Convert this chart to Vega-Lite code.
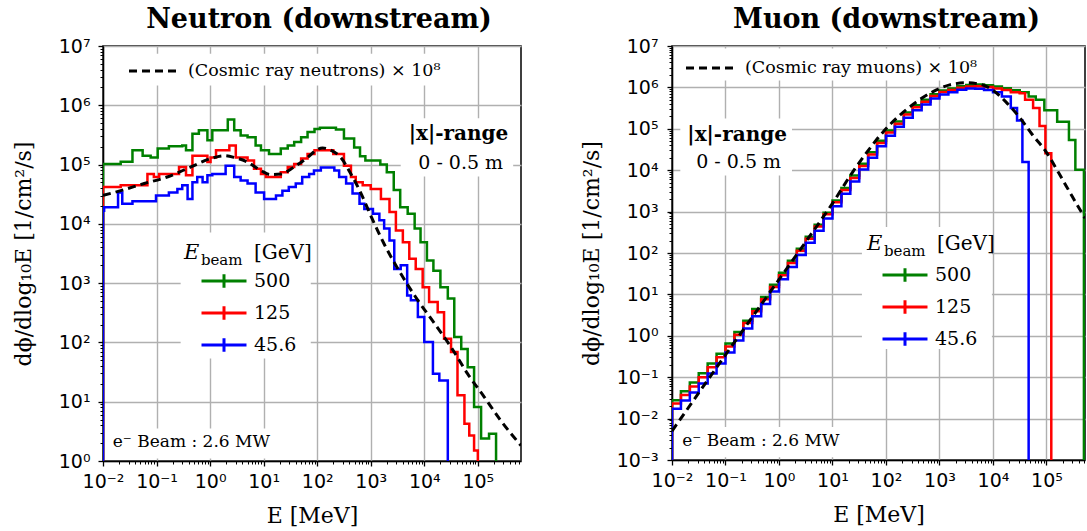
{
  "$schema": "https://vega.github.io/schema/vega-lite/v6.json",
  "background": "white",
  "padding": {"left": 11, "top": 4, "right": 0, "bottom": 0},
  "datasets": {
    "neutron": [
      {"E": 0.01, "flux": 0.001, "beam": "500"}, {"E": 0.01, "flux": 102000, "beam": "500"}, {"E": 0.0214, "flux": 112000, "beam": "500"}, {"E": 0.0355, "flux": 174000, "beam": "500"}, {"E": 0.055, "flux": 141000, "beam": "500"}, {"E": 0.0776, "flux": 132000, "beam": "500"}, {"E": 0.105, "flux": 186000, "beam": "500"}, {"E": 0.17, "flux": 204000, "beam": "500"}, {"E": 0.302, "flux": 209000, "beam": "500"}, {"E": 0.355, "flux": 174000, "beam": "500"}, {"E": 0.468, "flux": 331000, "beam": "500"}, {"E": 0.617, "flux": 380000, "beam": "500"}, {"E": 0.891, "flux": 257000, "beam": "500"}, {"E": 1.1, "flux": 380000, "beam": "500"}, {"E": 2.14, "flux": 575000, "beam": "500"}, {"E": 2.82, "flux": 380000, "beam": "500"}, {"E": 3.72, "flux": 309000, "beam": "500"}, {"E": 5.01, "flux": 288000, "beam": "500"}, {"E": 7.08, "flux": 209000, "beam": "500"}, {"E": 8.91, "flux": 174000, "beam": "500"}, {"E": 12.6, "flux": 151000, "beam": "500"}, {"E": 20.9, "flux": 186000, "beam": "500"}, {"E": 28.2, "flux": 209000, "beam": "500"}, {"E": 37.2, "flux": 240000, "beam": "500"}, {"E": 50.1, "flux": 288000, "beam": "500"}, {"E": 66.1, "flux": 355000, "beam": "500"}, {"E": 89.1, "flux": 398000, "beam": "500"}, {"E": 112, "flux": 417000, "beam": "500"}, {"E": 224, "flux": 389000, "beam": "500"}, {"E": 316, "flux": 275000, "beam": "500"}, {"E": 490, "flux": 195000, "beam": "500"}, {"E": 631, "flux": 138000, "beam": "500"}, {"E": 794, "flux": 117000, "beam": "500"}, {"E": 1510, "flux": 100000, "beam": "500"}, {"E": 1995, "flux": 74100, "beam": "500"}, {"E": 2690, "flux": 37200, "beam": "500"}, {"E": 3550, "flux": 19100, "beam": "500"}, {"E": 4900, "flux": 14800, "beam": "500"}, {"E": 6610, "flux": 8320, "beam": "500"}, {"E": 8510, "flux": 4900, "beam": "500"}, {"E": 11200, "flux": 2400, "beam": "500"}, {"E": 14800, "flux": 1620, "beam": "500"}, {"E": 20000, "flux": 851, "beam": "500"}, {"E": 27500, "flux": 550, "beam": "500"}, {"E": 36300, "flux": 123, "beam": "500"}, {"E": 49000, "flux": 77.6, "beam": "500"}, {"E": 64600, "flux": 38, "beam": "500"}, {"E": 85100, "flux": 8.13, "beam": "500"}, {"E": 115000, "flux": 2.4, "beam": "500"}, {"E": 162000, "flux": 2.88, "beam": "500"}, {"E": 219000, "flux": 0.001, "beam": "500"},
      {"E": 0.01, "flux": 0.001, "beam": "125"}, {"E": 0.01, "flux": 41700, "beam": "125"}, {"E": 0.0214, "flux": 44700, "beam": "125"}, {"E": 0.0676, "flux": 69200, "beam": "125"}, {"E": 0.0891, "flux": 61700, "beam": "125"}, {"E": 0.112, "flux": 69200, "beam": "125"}, {"E": 0.263, "flux": 91200, "beam": "125"}, {"E": 0.355, "flux": 66100, "beam": "125"}, {"E": 0.468, "flux": 141000, "beam": "125"}, {"E": 0.891, "flux": 110000, "beam": "125"}, {"E": 1.02, "flux": 132000, "beam": "125"}, {"E": 1.29, "flux": 174000, "beam": "125"}, {"E": 2.29, "flux": 209000, "beam": "125"}, {"E": 3.02, "flux": 132000, "beam": "125"}, {"E": 5.01, "flux": 117000, "beam": "125"}, {"E": 6.61, "flux": 85100, "beam": "125"}, {"E": 8.91, "flux": 69200, "beam": "125"}, {"E": 11, "flux": 61700, "beam": "125"}, {"E": 20.9, "flux": 74100, "beam": "125"}, {"E": 28.2, "flux": 91200, "beam": "125"}, {"E": 37.2, "flux": 102000, "beam": "125"}, {"E": 50.1, "flux": 126000, "beam": "125"}, {"E": 66.1, "flux": 151000, "beam": "125"}, {"E": 89.1, "flux": 174000, "beam": "125"}, {"E": 200, "flux": 151000, "beam": "125"}, {"E": 316, "flux": 95500, "beam": "125"}, {"E": 427, "flux": 61700, "beam": "125"}, {"E": 525, "flux": 50100, "beam": "125"}, {"E": 708, "flux": 44700, "beam": "125"}, {"E": 1000, "flux": 38900, "beam": "125"}, {"E": 1550, "flux": 26300, "beam": "125"}, {"E": 2240, "flux": 15800, "beam": "125"}, {"E": 2950, "flux": 7760, "beam": "125"}, {"E": 3980, "flux": 4900, "beam": "125"}, {"E": 5250, "flux": 2570, "beam": "125"}, {"E": 6920, "flux": 1740, "beam": "125"}, {"E": 9330, "flux": 851, "beam": "125"}, {"E": 12300, "flux": 479, "beam": "125"}, {"E": 17800, "flux": 324, "beam": "125"}, {"E": 23400, "flux": 115, "beam": "125"}, {"E": 31600, "flux": 69.2, "beam": "125"}, {"E": 41700, "flux": 12.9, "beam": "125"}, {"E": 56200, "flux": 4.27, "beam": "125"}, {"E": 69200, "flux": 2.69, "beam": "125"}, {"E": 85100, "flux": 1.51, "beam": "125"}, {"E": 100000, "flux": 0.001, "beam": "125"},
      {"E": 0.01, "flux": 0.001, "beam": "45.6"}, {"E": 0.01, "flux": 16600, "beam": "45.6"}, {"E": 0.0105, "flux": 19100, "beam": "45.6"}, {"E": 0.0191, "flux": 33900, "beam": "45.6"}, {"E": 0.0229, "flux": 21900, "beam": "45.6"}, {"E": 0.0355, "flux": 24000, "beam": "45.6"}, {"E": 0.0977, "flux": 30200, "beam": "45.6"}, {"E": 0.17, "flux": 33900, "beam": "45.6"}, {"E": 0.245, "flux": 38900, "beam": "45.6"}, {"E": 0.302, "flux": 44700, "beam": "45.6"}, {"E": 0.38, "flux": 26300, "beam": "45.6"}, {"E": 0.468, "flux": 50100, "beam": "45.6"}, {"E": 0.575, "flux": 61700, "beam": "45.6"}, {"E": 0.724, "flux": 50100, "beam": "45.6"}, {"E": 0.891, "flux": 66100, "beam": "45.6"}, {"E": 1.1, "flux": 69200, "beam": "45.6"}, {"E": 1.95, "flux": 95500, "beam": "45.6"}, {"E": 2.82, "flux": 61700, "beam": "45.6"}, {"E": 3.72, "flux": 53700, "beam": "45.6"}, {"E": 5.01, "flux": 47900, "beam": "45.6"}, {"E": 7.08, "flux": 33900, "beam": "45.6"}, {"E": 10.2, "flux": 26300, "beam": "45.6"}, {"E": 17, "flux": 30200, "beam": "45.6"}, {"E": 22.4, "flux": 36300, "beam": "45.6"}, {"E": 29.5, "flux": 41700, "beam": "45.6"}, {"E": 39.8, "flux": 47900, "beam": "45.6"}, {"E": 52.5, "flux": 61700, "beam": "45.6"}, {"E": 70.8, "flux": 69200, "beam": "45.6"}, {"E": 87.1, "flux": 79400, "beam": "45.6"}, {"E": 117, "flux": 89100, "beam": "45.6"}, {"E": 209, "flux": 79400, "beam": "45.6"}, {"E": 257, "flux": 61700, "beam": "45.6"}, {"E": 347, "flux": 47900, "beam": "45.6"}, {"E": 457, "flux": 32400, "beam": "45.6"}, {"E": 617, "flux": 21900, "beam": "45.6"}, {"E": 759, "flux": 17800, "beam": "45.6"}, {"E": 1100, "flux": 14800, "beam": "45.6"}, {"E": 1450, "flux": 11500, "beam": "45.6"}, {"E": 1780, "flux": 8320, "beam": "45.6"}, {"E": 2240, "flux": 5250, "beam": "45.6"}, {"E": 2750, "flux": 1740, "beam": "45.6"}, {"E": 3630, "flux": 2000, "beam": "45.6"}, {"E": 4790, "flux": 617, "beam": "45.6"}, {"E": 5620, "flux": 513, "beam": "45.6"}, {"E": 7590, "flux": 269, "beam": "45.6"}, {"E": 10000, "flux": 102, "beam": "45.6"}, {"E": 14500, "flux": 29.5, "beam": "45.6"}, {"E": 19100, "flux": 22.9, "beam": "45.6"}, {"E": 27500, "flux": 0.001, "beam": "45.6"}
    ],
    "neutron_cosmic": [
      {"E": 0.01, "flux": 30200, "curve": "(Cosmic ray neutrons) × 10⁸"}, {"E": 0.0214, "flux": 36300, "curve": "(Cosmic ray neutrons) × 10⁸"}, {"E": 0.0589, "flux": 47900, "curve": "(Cosmic ray neutrons) × 10⁸"}, {"E": 0.158, "flux": 61700, "curve": "(Cosmic ray neutrons) × 10⁸"}, {"E": 0.437, "flux": 91200, "curve": "(Cosmic ray neutrons) × 10⁸"}, {"E": 1.02, "flux": 126000, "curve": "(Cosmic ray neutrons) × 10⁸"}, {"E": 1.82, "flux": 141000, "curve": "(Cosmic ray neutrons) × 10⁸"}, {"E": 2.82, "flux": 132000, "curve": "(Cosmic ray neutrons) × 10⁸"}, {"E": 5.01, "flux": 110000, "curve": "(Cosmic ray neutrons) × 10⁸"}, {"E": 8.91, "flux": 79400, "curve": "(Cosmic ray neutrons) × 10⁸"}, {"E": 13.5, "flux": 67600, "curve": "(Cosmic ray neutrons) × 10⁸"}, {"E": 20.9, "flux": 69200, "curve": "(Cosmic ray neutrons) × 10⁸"}, {"E": 37.2, "flux": 91200, "curve": "(Cosmic ray neutrons) × 10⁸"}, {"E": 66.1, "flux": 132000, "curve": "(Cosmic ray neutrons) × 10⁸"}, {"E": 100, "flux": 178000, "curve": "(Cosmic ray neutrons) × 10⁸"}, {"E": 126, "flux": 191000, "curve": "(Cosmic ray neutrons) × 10⁸"}, {"E": 182, "flux": 174000, "curve": "(Cosmic ray neutrons) × 10⁸"}, {"E": 275, "flux": 132000, "curve": "(Cosmic ray neutrons) × 10⁸"}, {"E": 427, "flux": 69200, "curve": "(Cosmic ray neutrons) × 10⁸"}, {"E": 661, "flux": 32400, "curve": "(Cosmic ray neutrons) × 10⁸"}, {"E": 1000, "flux": 13800, "curve": "(Cosmic ray neutrons) × 10⁸"}, {"E": 1780, "flux": 4570, "curve": "(Cosmic ray neutrons) × 10⁸"}, {"E": 3630, "flux": 1450, "curve": "(Cosmic ray neutrons) × 10⁸"}, {"E": 7590, "flux": 513, "curve": "(Cosmic ray neutrons) × 10⁸"}, {"E": 15500, "flux": 209, "curve": "(Cosmic ray neutrons) × 10⁸"}, {"E": 31600, "flux": 83.2, "curve": "(Cosmic ray neutrons) × 10⁸"}, {"E": 64600, "flux": 29.5, "curve": "(Cosmic ray neutrons) × 10⁸"}, {"E": 132000, "flux": 12, "curve": "(Cosmic ray neutrons) × 10⁸"}, {"E": 269000, "flux": 4.79, "curve": "(Cosmic ray neutrons) × 10⁸"}, {"E": 640000, "flux": 1.82, "curve": "(Cosmic ray neutrons) × 10⁸"}
    ],
    "muon": [
      {"E": 0.01, "flux": 0.00001, "beam": "500"}, {"E": 0.01, "flux": 0.0279, "beam": "500"}, {"E": 0.01468, "flux": 0.0457, "beam": "500"}, {"E": 0.02154, "flux": 0.0748, "beam": "500"}, {"E": 0.03162, "flux": 0.125, "beam": "500"}, {"E": 0.04642, "flux": 0.214, "beam": "500"}, {"E": 0.06813, "flux": 0.366, "beam": "500"}, {"E": 0.1, "flux": 0.655, "beam": "500"}, {"E": 0.1468, "flux": 1.23, "beam": "500"}, {"E": 0.2154, "flux": 2.31, "beam": "500"}, {"E": 0.3162, "flux": 4.43, "beam": "500"}, {"E": 0.4642, "flux": 8.71, "beam": "500"}, {"E": 0.6813, "flux": 17.1, "beam": "500"}, {"E": 1, "flux": 33.5, "beam": "500"}, {"E": 1.468, "flux": 65.3, "beam": "500"}, {"E": 2.154, "flux": 127, "beam": "500"}, {"E": 3.162, "flux": 248, "beam": "500"}, {"E": 4.642, "flux": 484, "beam": "500"}, {"E": 6.813, "flux": 944, "beam": "500"}, {"E": 10, "flux": 1860, "beam": "500"}, {"E": 14.68, "flux": 3720, "beam": "500"}, {"E": 21.54, "flux": 7410, "beam": "500"}, {"E": 31.62, "flux": 14400, "beam": "500"}, {"E": 46.42, "flux": 27200, "beam": "500"}, {"E": 68.13, "flux": 51500, "beam": "500"}, {"E": 100, "flux": 90800, "beam": "500"}, {"E": 146.8, "flux": 150000, "beam": "500"}, {"E": 215.4, "flux": 247000, "beam": "500"}, {"E": 316.2, "flux": 368000, "beam": "500"}, {"E": 464.2, "flux": 501000, "beam": "500"}, {"E": 681.3, "flux": 682000, "beam": "500"}, {"E": 1000, "flux": 841000, "beam": "500"}, {"E": 1468, "flux": 944000, "beam": "500"}, {"E": 2154, "flux": 1060000, "beam": "500"}, {"E": 3162, "flux": 1140000, "beam": "500"}, {"E": 4642, "flux": 1170000, "beam": "500"}, {"E": 6813, "flux": 1120000, "beam": "500"}, {"E": 10000, "flux": 1050000, "beam": "500"}, {"E": 14678, "flux": 955000, "beam": "500"}, {"E": 21544, "flux": 851000, "beam": "500"}, {"E": 31623, "flux": 759000, "beam": "500"}, {"E": 46416, "flux": 603000, "beam": "500"}, {"E": 63096, "flux": 501000, "beam": "500"}, {"E": 91201, "flux": 282000, "beam": "500"}, {"E": 158489, "flux": 148000, "beam": "500"}, {"E": 263027, "flux": 53700, "beam": "500"}, {"E": 346737, "flux": 10200, "beam": "500"}, {"E": 501187, "flux": 0.00001, "beam": "500"},
      {"E": 0.01, "flux": 0.00001, "beam": "125"}, {"E": 0.01, "flux": 0.0231, "beam": "125"}, {"E": 0.01468, "flux": 0.0372, "beam": "125"}, {"E": 0.02154, "flux": 0.0598, "beam": "125"}, {"E": 0.03162, "flux": 0.1, "beam": "125"}, {"E": 0.04642, "flux": 0.174, "beam": "125"}, {"E": 0.06813, "flux": 0.302, "beam": "125"}, {"E": 0.1, "flux": 0.551, "beam": "125"}, {"E": 0.1468, "flux": 1.06, "beam": "125"}, {"E": 0.2154, "flux": 2.04, "beam": "125"}, {"E": 0.3162, "flux": 3.93, "beam": "125"}, {"E": 0.4642, "flux": 7.67, "beam": "125"}, {"E": 0.6813, "flux": 15, "beam": "125"}, {"E": 1, "flux": 29.2, "beam": "125"}, {"E": 1.468, "flux": 57.5, "beam": "125"}, {"E": 2.154, "flux": 113, "beam": "125"}, {"E": 3.162, "flux": 222, "beam": "125"}, {"E": 4.642, "flux": 437, "beam": "125"}, {"E": 6.813, "flux": 859, "beam": "125"}, {"E": 10, "flux": 1680, "beam": "125"}, {"E": 14.68, "flux": 3310, "beam": "125"}, {"E": 21.54, "flux": 6520, "beam": "125"}, {"E": 31.62, "flux": 12600, "beam": "125"}, {"E": 46.42, "flux": 24000, "beam": "125"}, {"E": 68.13, "flux": 45700, "beam": "125"}, {"E": 100, "flux": 80900, "beam": "125"}, {"E": 146.8, "flux": 133000, "beam": "125"}, {"E": 215.4, "flux": 220000, "beam": "125"}, {"E": 316.2, "flux": 330000, "beam": "125"}, {"E": 464.2, "flux": 452000, "beam": "125"}, {"E": 681.3, "flux": 619000, "beam": "125"}, {"E": 1000, "flux": 771000, "beam": "125"}, {"E": 1468, "flux": 871000, "beam": "125"}, {"E": 2154, "flux": 984000, "beam": "125"}, {"E": 3162, "flux": 1050000, "beam": "125"}, {"E": 4642, "flux": 1070000, "beam": "125"}, {"E": 6813, "flux": 1020000, "beam": "125"}, {"E": 10000, "flux": 940000, "beam": "125"}, {"E": 14678, "flux": 861000, "beam": "125"}, {"E": 21544, "flux": 767000, "beam": "125"}, {"E": 31623, "flux": 724000, "beam": "125"}, {"E": 39811, "flux": 501000, "beam": "125"}, {"E": 56234, "flux": 316000, "beam": "125"}, {"E": 74131, "flux": 117000, "beam": "125"}, {"E": 95499, "flux": 25700, "beam": "125"}, {"E": 123027, "flux": 0.00001, "beam": "125"},
      {"E": 0.01, "flux": 0.00001, "beam": "45.6"}, {"E": 0.01, "flux": 0.0173, "beam": "45.6"}, {"E": 0.01468, "flux": 0.0272, "beam": "45.6"}, {"E": 0.02154, "flux": 0.0429, "beam": "45.6"}, {"E": 0.03162, "flux": 0.0708, "beam": "45.6"}, {"E": 0.04642, "flux": 0.123, "beam": "45.6"}, {"E": 0.06813, "flux": 0.214, "beam": "45.6"}, {"E": 0.1, "flux": 0.394, "beam": "45.6"}, {"E": 0.1468, "flux": 0.767, "beam": "45.6"}, {"E": 0.2154, "flux": 1.5, "beam": "45.6"}, {"E": 0.3162, "flux": 2.95, "beam": "45.6"}, {"E": 0.4642, "flux": 5.89, "beam": "45.6"}, {"E": 0.6813, "flux": 11.7, "beam": "45.6"}, {"E": 1, "flux": 23.2, "beam": "45.6"}, {"E": 1.468, "flux": 45.7, "beam": "45.6"}, {"E": 2.154, "flux": 89.9, "beam": "45.6"}, {"E": 3.162, "flux": 176, "beam": "45.6"}, {"E": 4.642, "flux": 347, "beam": "45.6"}, {"E": 6.813, "flux": 682, "beam": "45.6"}, {"E": 10, "flux": 1350, "beam": "45.6"}, {"E": 14.68, "flux": 2690, "beam": "45.6"}, {"E": 21.54, "flux": 5370, "beam": "45.6"}, {"E": 31.62, "flux": 10400, "beam": "45.6"}, {"E": 46.42, "flux": 19950, "beam": "45.6"}, {"E": 68.13, "flux": 38000, "beam": "45.6"}, {"E": 100, "flux": 67600, "beam": "45.6"}, {"E": 146.8, "flux": 112000, "beam": "45.6"}, {"E": 215.4, "flux": 186000, "beam": "45.6"}, {"E": 316.2, "flux": 282000, "beam": "45.6"}, {"E": 464.2, "flux": 389000, "beam": "45.6"}, {"E": 681.3, "flux": 537000, "beam": "45.6"}, {"E": 1000, "flux": 673000, "beam": "45.6"}, {"E": 1468, "flux": 767000, "beam": "45.6"}, {"E": 2154, "flux": 875000, "beam": "45.6"}, {"E": 3162, "flux": 942000, "beam": "45.6"}, {"E": 4642, "flux": 933000, "beam": "45.6"}, {"E": 6813, "flux": 865000, "beam": "45.6"}, {"E": 10000, "flux": 759000, "beam": "45.6"}, {"E": 14678, "flux": 603000, "beam": "45.6"}, {"E": 21544, "flux": 316000, "beam": "45.6"}, {"E": 28184, "flux": 158000, "beam": "45.6"}, {"E": 35481, "flux": 15800, "beam": "45.6"}, {"E": 46416, "flux": 0.00001, "beam": "45.6"}
    ],
    "muon_cosmic": [
      {"E": 0.01, "flux": 0.00501, "curve": "(Cosmic ray muons) × 10⁸"}, {"E": 0.0316, "flux": 0.0417, "curve": "(Cosmic ray muons) × 10⁸"}, {"E": 0.1, "flux": 0.347, "curve": "(Cosmic ray muons) × 10⁸"}, {"E": 0.316, "flux": 2.82, "curve": "(Cosmic ray muons) × 10⁸"}, {"E": 1, "flux": 22.9, "curve": "(Cosmic ray muons) × 10⁸"}, {"E": 3.16, "flux": 186, "curve": "(Cosmic ray muons) × 10⁸"}, {"E": 10, "flux": 1585, "curve": "(Cosmic ray muons) × 10⁸"}, {"E": 24.5, "flux": 9550, "curve": "(Cosmic ray muons) × 10⁸"}, {"E": 43.7, "flux": 26900, "curve": "(Cosmic ray muons) × 10⁸"}, {"E": 89.1, "flux": 85100, "curve": "(Cosmic ray muons) × 10⁸"}, {"E": 182, "flux": 214000, "curve": "(Cosmic ray muons) × 10⁸"}, {"E": 372, "flux": 447000, "curve": "(Cosmic ray muons) × 10⁸"}, {"E": 759, "flux": 794000, "curve": "(Cosmic ray muons) × 10⁸"}, {"E": 1550, "flux": 1150000, "curve": "(Cosmic ray muons) × 10⁸"}, {"E": 3160, "flux": 1290000, "curve": "(Cosmic ray muons) × 10⁸"}, {"E": 5620, "flux": 1200000, "curve": "(Cosmic ray muons) × 10⁸"}, {"E": 9770, "flux": 871000, "curve": "(Cosmic ray muons) × 10⁸"}, {"E": 17400, "flux": 447000, "curve": "(Cosmic ray muons) × 10⁸"}, {"E": 30900, "flux": 195000, "curve": "(Cosmic ray muons) × 10⁸"}, {"E": 55000, "flux": 70800, "curve": "(Cosmic ray muons) × 10⁸"}, {"E": 97700, "flux": 28200, "curve": "(Cosmic ray muons) × 10⁸"}, {"E": 170000, "flux": 8510, "curve": "(Cosmic ray muons) × 10⁸"}, {"E": 302000, "flux": 2340, "curve": "(Cosmic ray muons) × 10⁸"}, {"E": 525000, "flux": 692, "curve": "(Cosmic ray muons) × 10⁸"}
    ]
  },
  "hconcat": [
    {
      "width": 418,
      "height": 415,
      "title": {"text": "Neutron (downstream)", "dx": 7},
      "resolve": {"axis": {"x": "independent", "y": "independent"}},
      "layer": [
        {"data": {"values": [{}]}, "mark": {"type": "rect", "fill": "white"}, "encoding": {"x": {"datum": 0.0195, "type": "quantitative", "axis": null}, "x2": {"datum": 48500}, "y": {"datum": 7400000, "type": "quantitative", "axis": null}, "y2": {"datum": 2160000}}},
        {"data": {"values": [{}]}, "mark": {"type": "rect", "fill": "white"}, "encoding": {"x": {"datum": 3630, "type": "quantitative", "axis": null}, "x2": {"datum": 457000}, "y": {"datum": 603000, "type": "quantitative", "axis": null}, "y2": {"datum": 63100}}},
        {"data": {"values": [{}]}, "mark": {"type": "rect", "fill": "white"}, "encoding": {"x": {"datum": 0.282, "type": "quantitative", "axis": null}, "x2": {"datum": 75.9}, "y": {"datum": 7160, "type": "quantitative", "axis": null}, "y2": {"datum": 53.7}}},
        {"data": {"values": [{}]}, "mark": {"type": "rect", "fill": "white"}, "encoding": {"x": {"datum": 0.0112, "type": "quantitative", "axis": null}, "x2": {"datum": 17}, "y": {"datum": 3.55, "type": "quantitative", "axis": null}, "y2": {"datum": 1.1}}},
        {
          "data": {"name": "neutron"},
          "mark": {"type": "line", "interpolate": "step-after", "strokeWidth": 2.5, "clip": true},
          "encoding": {
            "x": {"field": "E", "type": "quantitative", "scale": {"type": "log", "domain": [0.01, 640000], "nice": false},
              "axis": {"orient": "bottom", "values": [0.01, 0.1, 1, 10, 100, 1000, 10000, 100000], "grid": true, "title": "E [MeV]", "labelPadding": 6, "titlePadding": 14,
                "labelExpr": "datum.value < 0.005 ? '10⁻³' : datum.value < 0.05 ? '10⁻²' : datum.value < 0.5 ? '10⁻¹' : datum.value < 5 ? '10⁰' : datum.value < 50 ? '10¹' : datum.value < 500 ? '10²' : datum.value < 5000 ? '10³' : datum.value < 50000 ? '10⁴' : datum.value < 500000 ? '10⁵' : datum.value < 5000000 ? '10⁶' : '10⁷'"}},
            "y": {"field": "flux", "type": "quantitative", "scale": {"type": "log", "domain": [1, 10000000], "nice": false},
              "axis": {"orient": "left", "values": [1, 10, 100, 1000, 10000, 100000, 1000000, 10000000], "grid": true, "title": "dϕ/dlog₁₀E [1/cm²/s]", "labelPadding": 8, "titlePadding": 23,
                "labelExpr": "datum.value < 0.005 ? '10⁻³' : datum.value < 0.05 ? '10⁻²' : datum.value < 0.5 ? '10⁻¹' : datum.value < 5 ? '10⁰' : datum.value < 50 ? '10¹' : datum.value < 500 ? '10²' : datum.value < 5000 ? '10³' : datum.value < 50000 ? '10⁴' : datum.value < 500000 ? '10⁵' : datum.value < 5000000 ? '10⁶' : '10⁷'"}},
            "color": {"field": "beam", "type": "nominal", "scale": {"domain": ["500", "125", "45.6"], "range": ["#008000", "#ff0000", "#0000ff"]},
              "legend": {"orient": "none", "legendX": 108, "legendY": 222, "title": null, "symbolType": "M-2,0L2,0M0,-0.6L0,0.6", "symbolSize": 506, "symbolStrokeWidth": 3, "labelFontSize": 19, "labelOffset": 17, "rowPadding": 6}}
          }
        },
        {
          "data": {"name": "neutron_cosmic"},
          "mark": {"type": "line", "color": "black", "strokeWidth": 3, "interpolate": "monotone", "clip": true},
          "encoding": {
            "x": {"field": "E", "type": "quantitative", "axis": {"orient": "bottom", "values": [0.02,0.03,0.04,0.05,0.06,0.07,0.08,0.09,0.2,0.3,0.4,0.5,0.6,0.7,0.8,0.9,2,3,4,5,6,7,8,9,20,30,40,50,60,70,80,90,200,300,400,500,600,700,800,900,2000,3000,4000,5000,6000,7000,8000,9000,20000,30000,40000,50000,60000,70000,80000,90000,200000,300000,400000,500000,600000], "labels": false, "grid": false, "domain": false, "tickSize": 3, "tickWidth": 1, "title": null}},
            "y": {"field": "flux", "type": "quantitative", "axis": {"orient": "left", "values": [2,3,4,5,6,7,8,9,20,30,40,50,60,70,80,90,200,300,400,500,600,700,800,900,2000,3000,4000,5000,6000,7000,8000,9000,20000,30000,40000,50000,60000,70000,80000,90000,200000,300000,400000,500000,600000,700000,800000,900000,2000000,3000000,4000000,5000000,6000000,7000000,8000000,9000000], "labels": false, "grid": false, "domain": false, "tickSize": 3, "tickWidth": 1, "title": null}},
            "strokeDash": {"field": "curve", "type": "nominal", "scale": {"range": [[8, 5]]},
              "legend": {"orient": "none", "legendX": 37, "legendY": 11, "title": null, "symbolType": "M-2,0L2,0", "symbolSize": 625, "symbolStrokeWidth": 3, "symbolStrokeColor": "black", "labelFontSize": 17.5, "labelOffset": 20, "labelLimit": 500}}
          }
        },
        {"data": {"values": [{}]}, "mark": {"type": "text", "font": "DejaVu Serif", "fontSize": 20, "fontWeight": "bold", "align": "center", "baseline": "middle", "color": "black"}, "encoding": {"x": {"datum": 43600, "type": "quantitative", "axis": null}, "y": {"datum": 322000, "type": "quantitative", "axis": null}, "text": {"value": "|x|-range"}}},
        {"data": {"values": [{}]}, "mark": {"type": "text", "font": "DejaVu Serif", "fontSize": 19, "align": "center", "baseline": "middle", "color": "black"}, "encoding": {"x": {"datum": 47900, "type": "quantitative", "axis": null}, "y": {"datum": 108000, "type": "quantitative", "axis": null}, "text": {"value": "0 - 0.5 m"}}},
        {"data": {"values": [{}]}, "mark": {"type": "text", "font": "DejaVu Serif", "fontSize": 17, "align": "left", "baseline": "middle", "color": "black"}, "encoding": {"x": {"datum": 0.01524, "type": "quantitative", "axis": null}, "y": {"datum": 2.06, "type": "quantitative", "axis": null}, "text": {"value": "e⁻ Beam : 2.6 MW"}}},
        {"data": {"values": [{}]}, "mark": {"type": "text", "font": "DejaVu Serif", "fontSize": 21, "fontStyle": "italic", "align": "left", "baseline": "alphabetic", "color": "black"}, "encoding": {"x": {"datum": 0.324, "type": "quantitative", "axis": null}, "y": {"datum": 2510, "type": "quantitative", "axis": null}, "text": {"value": "E"}}},
        {"data": {"values": [{}]}, "mark": {"type": "text", "font": "DejaVu Serif", "fontSize": 15, "align": "left", "baseline": "alphabetic", "dx": 17, "dy": 6, "color": "black"}, "encoding": {"x": {"datum": 0.324, "type": "quantitative", "axis": null}, "y": {"datum": 2510, "type": "quantitative", "axis": null}, "text": {"value": "beam"}}},
        {"data": {"values": [{}]}, "mark": {"type": "text", "font": "DejaVu Serif", "fontSize": 20, "align": "left", "baseline": "alphabetic", "dx": 70, "color": "black"}, "encoding": {"x": {"datum": 0.324, "type": "quantitative", "axis": null}, "y": {"datum": 2510, "type": "quantitative", "axis": null}, "text": {"value": "[GeV]"}}}
      ]
    },
    {
      "width": 413,
      "height": 414,
      "title": {"text": "Muon (downstream)", "dx": 8},
      "resolve": {"axis": {"x": "independent", "y": "independent"}},
      "layer": [
        {"data": {"values": [{}]}, "mark": {"type": "rect", "fill": "white"}, "encoding": {"x": {"datum": 0.0132, "type": "quantitative", "axis": null}, "x2": {"datum": 7000}, "y": {"datum": 8700000, "type": "quantitative", "axis": null}, "y2": {"datum": 1470000}}},
        {"data": {"values": [{}]}, "mark": {"type": "rect", "fill": "white"}, "encoding": {"x": {"datum": 0.0143, "type": "quantitative", "axis": null}, "x2": {"datum": 1.75}, "y": {"datum": 178000, "type": "quantitative", "axis": null}, "y2": {"datum": 7410}}},
        {"data": {"values": [{}]}, "mark": {"type": "rect", "fill": "white"}, "encoding": {"x": {"datum": 35.5, "type": "quantitative", "axis": null}, "x2": {"datum": 9550}, "y": {"datum": 427, "type": "quantitative", "axis": null}, "y2": {"datum": 0.479}}},
        {"data": {"values": [{}]}, "mark": {"type": "rect", "fill": "white"}, "encoding": {"x": {"datum": 0.0132, "type": "quantitative", "axis": null}, "x2": {"datum": 15.1}, "y": {"datum": 0.0063, "type": "quantitative", "axis": null}, "y2": {"datum": 0.00117}}},
        {
          "data": {"name": "muon"},
          "mark": {"type": "line", "interpolate": "step-after", "strokeWidth": 2.5, "clip": true},
          "encoding": {
            "x": {"field": "E", "type": "quantitative", "scale": {"type": "log", "domain": [0.01, 525000], "nice": false},
              "axis": {"orient": "bottom", "values": [0.01, 0.1, 1, 10, 100, 1000, 10000, 100000], "grid": true, "title": "E [MeV]", "labelPadding": 6, "titlePadding": 14,
                "labelExpr": "datum.value < 0.005 ? '10⁻³' : datum.value < 0.05 ? '10⁻²' : datum.value < 0.5 ? '10⁻¹' : datum.value < 5 ? '10⁰' : datum.value < 50 ? '10¹' : datum.value < 500 ? '10²' : datum.value < 5000 ? '10³' : datum.value < 50000 ? '10⁴' : datum.value < 500000 ? '10⁵' : datum.value < 5000000 ? '10⁶' : '10⁷'"}},
            "y": {"field": "flux", "type": "quantitative", "scale": {"type": "log", "domain": [0.001, 10000000], "nice": false},
              "axis": {"orient": "left", "values": [0.001, 0.01, 0.1, 1, 10, 100, 1000, 10000, 100000, 1000000, 10000000], "grid": true, "title": "dϕ/dlog₁₀E [1/cm²/s]", "labelPadding": 9, "titlePadding": 13,
                "labelExpr": "datum.value < 0.005 ? '10⁻³' : datum.value < 0.05 ? '10⁻²' : datum.value < 0.5 ? '10⁻¹' : datum.value < 5 ? '10⁰' : datum.value < 50 ? '10¹' : datum.value < 500 ? '10²' : datum.value < 5000 ? '10³' : datum.value < 50000 ? '10⁴' : datum.value < 500000 ? '10⁵' : datum.value < 5000000 ? '10⁶' : '10⁷'"}},
            "color": {"field": "beam", "type": "nominal", "scale": {"domain": ["500", "125", "45.6"], "range": ["#008000", "#ff0000", "#0000ff"]},
              "legend": {"orient": "none", "legendX": 220, "legendY": 216, "title": null, "symbolType": "M-2,0L2,0M0,-0.6L0,0.6", "symbolSize": 506, "symbolStrokeWidth": 3, "labelFontSize": 19, "labelOffset": 17, "rowPadding": 6}}
          }
        },
        {
          "data": {"name": "muon_cosmic"},
          "mark": {"type": "line", "color": "black", "strokeWidth": 3, "interpolate": "monotone", "clip": true},
          "encoding": {
            "x": {"field": "E", "type": "quantitative", "axis": {"orient": "bottom", "values": [0.02,0.03,0.04,0.05,0.06,0.07,0.08,0.09,0.2,0.3,0.4,0.5,0.6,0.7,0.8,0.9,2,3,4,5,6,7,8,9,20,30,40,50,60,70,80,90,200,300,400,500,600,700,800,900,2000,3000,4000,5000,6000,7000,8000,9000,20000,30000,40000,50000,60000,70000,80000,90000,200000,300000,400000,500000], "labels": false, "grid": false, "domain": false, "tickSize": 3, "tickWidth": 1, "title": null}},
            "y": {"field": "flux", "type": "quantitative", "axis": {"orient": "left", "values": [0.002,0.003,0.004,0.005,0.006,0.007,0.008,0.009,0.02,0.03,0.04,0.05,0.06,0.07,0.08,0.09,0.2,0.3,0.4,0.5,0.6,0.7,0.8,0.9,2,3,4,5,6,7,8,9,20,30,40,50,60,70,80,90,200,300,400,500,600,700,800,900,2000,3000,4000,5000,6000,7000,8000,9000,20000,30000,40000,50000,60000,70000,80000,90000,200000,300000,400000,500000,600000,700000,800000,900000,2000000,3000000,4000000,5000000,6000000,7000000,8000000,9000000], "labels": false, "grid": false, "domain": false, "tickSize": 3, "tickWidth": 1, "title": null}},
            "strokeDash": {"field": "curve", "type": "nominal", "scale": {"range": [[8, 5]]},
              "legend": {"orient": "none", "legendX": 25, "legendY": 8, "title": null, "symbolType": "M-2,0L2,0", "symbolSize": 625, "symbolStrokeWidth": 3, "symbolStrokeColor": "black", "labelFontSize": 17.5, "labelOffset": 20, "labelLimit": 500}}
          }
        },
        {"data": {"values": [{}]}, "mark": {"type": "text", "font": "DejaVu Serif", "fontSize": 20, "fontWeight": "bold", "align": "center", "baseline": "middle", "color": "black"}, "encoding": {"x": {"datum": 0.165, "type": "quantitative", "axis": null}, "y": {"datum": 72400, "type": "quantitative", "axis": null}, "text": {"value": "|x|-range"}}},
        {"data": {"values": [{}]}, "mark": {"type": "text", "font": "DejaVu Serif", "fontSize": 19, "align": "center", "baseline": "middle", "color": "black"}, "encoding": {"x": {"datum": 0.176, "type": "quantitative", "axis": null}, "y": {"datum": 16100, "type": "quantitative", "axis": null}, "text": {"value": "0 - 0.5 m"}}},
        {"data": {"values": [{}]}, "mark": {"type": "text", "font": "DejaVu Serif", "fontSize": 17, "align": "left", "baseline": "middle", "color": "black"}, "encoding": {"x": {"datum": 0.01556, "type": "quantitative", "axis": null}, "y": {"datum": 0.00288, "type": "quantitative", "axis": null}, "text": {"value": "e⁻ Beam : 2.6 MW"}}},
        {"data": {"values": [{}]}, "mark": {"type": "text", "font": "DejaVu Serif", "fontSize": 21, "fontStyle": "italic", "align": "left", "baseline": "alphabetic", "color": "black"}, "encoding": {"x": {"datum": 44, "type": "quantitative", "axis": null}, "y": {"datum": 115, "type": "quantitative", "axis": null}, "text": {"value": "E"}}},
        {"data": {"values": [{}]}, "mark": {"type": "text", "font": "DejaVu Serif", "fontSize": 15, "align": "left", "baseline": "alphabetic", "dx": 17, "dy": 6, "color": "black"}, "encoding": {"x": {"datum": 44, "type": "quantitative", "axis": null}, "y": {"datum": 115, "type": "quantitative", "axis": null}, "text": {"value": "beam"}}},
        {"data": {"values": [{}]}, "mark": {"type": "text", "font": "DejaVu Serif", "fontSize": 20, "align": "left", "baseline": "alphabetic", "dx": 70, "color": "black"}, "encoding": {"x": {"datum": 44, "type": "quantitative", "axis": null}, "y": {"datum": 115, "type": "quantitative", "axis": null}, "text": {"value": "[GeV]"}}}
      ]
    }
  ],
  "resolve": {
    "scale": {"x": "independent", "y": "independent", "color": "independent", "strokeDash": "independent"},
    "legend": {"color": "independent", "strokeDash": "independent"}
  },
  "config": {
    "view": {"stroke": "black", "strokeWidth": 1.5},
    "font": "DejaVu Serif",
    "title": {"font": "DejaVu Serif", "fontSize": 27, "fontWeight": "bold", "color": "black", "anchor": "middle", "baseline": "alphabetic", "offset": 3.5},
    "axis": {"labelFont": "DejaVu Sans", "labelFontSize": 19, "labelColor": "black", "titleFont": "DejaVu Serif", "titleFontSize": 22, "titleFontWeight": "normal", "titleColor": "black", "domainColor": "black", "domainWidth": 1.5, "tickColor": "black", "tickWidth": 1.3, "tickSize": 5, "gridColor": "#b0b0b0", "gridWidth": 1.4, "labelOverlap": false, "labelFlush": false, "labelBound": false},
    "legend": {"labelFont": "DejaVu Serif", "labelColor": "black", "padding": 0},
    "concat": {"spacing": 57}
  }
}
